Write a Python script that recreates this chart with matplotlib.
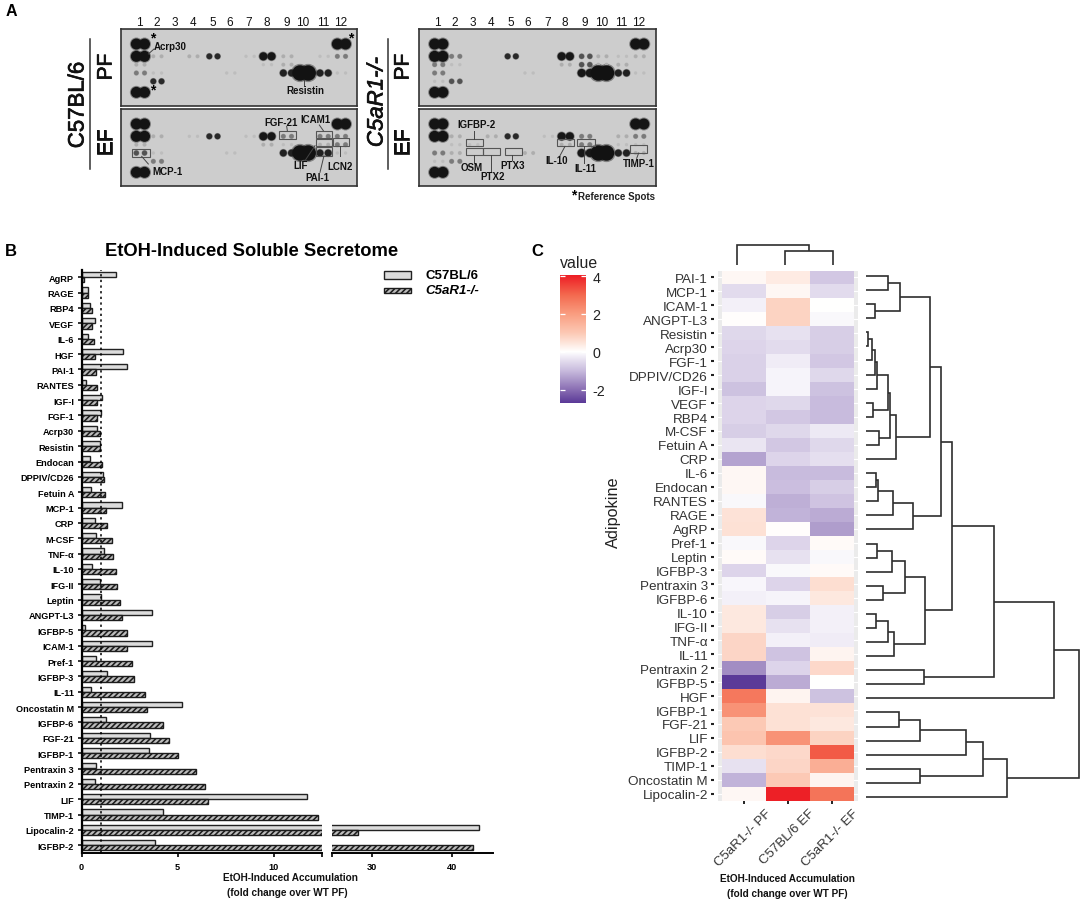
import matplotlib
matplotlib.use("Agg")
import numpy as np
import matplotlib.pyplot as plt
import matplotlib.patheffects as pe
from matplotlib.colors import LinearSegmentedColormap, Normalize
from matplotlib.patches import Rectangle
from matplotlib.transforms import ScaledTranslation

plt.rcParams['font.family'] = ['Liberation Sans', 'DejaVu Sans']
plt.rcParams['hatch.linewidth'] = 1.15

W, H = 1084, 904

# ---------- panel B data ----------
bar_labels = ["AgRP", "RAGE", "RBP4", "VEGF", "IL-6", "HGF", "PAI-1", "RANTES", "IGF-I", "FGF-1",
              "Acrp30", "Resistin", "Endocan", "DPPIV/CD26", "Fetuin A", "MCP-1", "CRP", "M-CSF",
              "TNF-α", "IL-10", "IFG-II", "Leptin", "ANGPT-L3", "IGFBP-5", "ICAM-1", "Pref-1",
              "IGFBP-3", "IL-11", "Oncostatin M", "IGFBP-6", "FGF-21", "IGFBP-1", "Pentraxin 3",
              "Pentraxin 2", "LIF", "TIMP-1", "Lipocalin-2", "IGFBP-2"]
c57_vals = [1.78, 0.35, 0.45, 0.71, 0.35, 2.17, 2.34, 0.22, 1.09, 0.99, 0.83, 0.94, 0.43, 1.11, 0.50,
            2.08, 0.69, 0.75, 1.16, 0.57, 0.94, 1.00, 3.64, 0.19, 3.67, 0.76, 1.32, 0.50, 5.20, 1.25,
            3.55, 3.50, 0.76, 0.71, 11.7, 4.21, 43.5, 3.81]
c5a_vals = [0.15, 0.33, 0.55, 0.57, 0.66, 0.69, 0.73, 0.78, 0.78, 0.78, 0.94, 0.97, 1.07, 1.18, 1.21,
            1.28, 1.30, 1.58, 1.66, 1.77, 1.87, 2.01, 2.08, 2.34, 2.36, 2.60, 2.74, 3.31, 3.43, 4.21,
            4.56, 4.99, 5.93, 6.40, 6.57, 12.3, 28.2, 42.7]

# ---------- panel C data ----------
heat_rows = ["PAI-1", "MCP-1", "ICAM-1", "ANGPT-L3", "Resistin", "Acrp30", "FGF-1", "DPPIV/CD26", "IGF-I",
             "VEGF", "RBP4", "M-CSF", "Fetuin A", "CRP", "IL-6", "Endocan", "RANTES", "RAGE", "AgRP",
             "Pref-1", "Leptin", "IGFBP-3", "Pentraxin 3", "IGFBP-6", "IL-10", "IFG-II", "TNF-α", "IL-11",
             "Pentraxin 2", "IGFBP-5", "HGF", "IGFBP-1", "FGF-21", "LIF", "IGFBP-2", "TIMP-1",
             "Oncostatin M", "Lipocalin-2"]
heat_cols = ["C5aR1-/- PF", "C57BL/6 EF", "C5aR1-/- EF"]
heat_pf = [0.15, -0.5, -0.2, 0.05, -0.55, -0.6, -0.65, -0.65, -0.9, -0.6, -0.6, -0.7, -0.35, -1.3, 0.15, 0.15,
           -0.1, 0.5, 0.55, -0.1, 0.08, -0.6, -0.12, -0.2, 0.4, 0.4, 0.75, 0.75, -1.6, -2.7, 2.7, 2.2, 1.0, 1.1,
           0.6, -0.4, -1.1, 0.15]
heat_c57ef = [0.35, 0.15, 0.8, 0.8, -0.4, -0.5, -0.25, -0.15, -0.15, -0.55, -0.8, -0.55, -0.8, -0.6, -1.0, -0.95,
              -1.15, -1.1, 0.05, -0.6, -0.4, -0.1, -0.6, -0.15, -0.7, -0.4, -0.2, -0.85, -0.6, -1.2, 0.2, 0.55,
              0.55, 2.2, 0.7, 0.75, 1.0, 4.0]
heat_c5ef = [-0.8, -0.5, 0.0, -0.1, -0.7, -0.7, -0.8, -0.55, -0.9, -1.0, -1.0, -0.3, -0.55, -0.45, -1.0, -0.7,
             -0.85, -1.2, -1.4, 0.1, -0.1, 0.1, 0.6, 0.4, -0.2, -0.2, -0.25, 0.2, 0.7, 0.0, -0.9, 0.5, 0.4, 0.8,
             3.2, 1.6, 0.2, 2.8]
cmap_values = [-2.7, -2, -1, -0.5, 0, 0.5, 1, 2, 3, 4.07]
cmap_colors = ["#5b3a98", "#8a6fb3", "#c8bbdd", "#e2dbed", "#ffffff", "#fde3d8", "#fcc8b4", "#f99d80", "#f36a4f", "#ed1c24"]

# dendrogram merges: (child, child, height); ids >= 38 are earlier merges
row_merges = [(0, 1, 115), (2, 3, 75), (38, 39, 150), (4, 5, 55), (41, 6, 65), (42, 7, 75), (43, 8, 80), (9, 10, 70),
              (44, 45, 115), (11, 12, 88), (46, 47, 120), (48, 13, 137), (40, 49, 240), (14, 15, 78), (51, 16, 85),
              (52, 17, 128), (53, 18, 190), (50, 54, 272), (19, 20, 82), (56, 21, 125), (22, 23, 98), (57, 58, 164),
              (24, 25, 78), (60, 26, 115), (61, 27, 133), (59, 62, 226), (55, 63, 305), (28, 29, 222), (64, 65, 433),
              (66, 30, 611), (31, 32, 148), (68, 33, 210), (69, 34, 348), (35, 36, 210), (70, 71, 400), (72, 37, 470),
              (67, 73, 687)]
col_merges = [(1, 2, 13.4), (0, 3, 19.4)]

# ---------- panel A data: (column, row, intensity level) ----------
blot_c57_pf = [(1,1,5),(1,2,5),(1,3,1),(1,4,2),(1,6,5),(2,2,1),(2,4,0),(2,5,3),(4,2,1),(5,2,3),(6,4,0),(7,2,0),(8,2,4),
               (8,3,0),(9,2,1),(9,3,1),(9,4,3.5),(10,4,6),(11,2,0),(11,4,3.5),(12,1,5),(12,2,2),(12,4,0)]
blot_c57_ef = [(1,1,5),(1,2,5),(1,3,1),(1,4,2.5),(1,6,5),(2,2,1),(2,4,0),(2,5,2),(4,2,0),(5,2,3),(6,4,0),(7,2,0),(8,2,4),
               (8,3,1),(9,2,2),(9,3,0),(9,4,3.5),(10,4,6),(11,2,2),(11,3,1),(11,4,3.5),(12,1,5),(12,2,2),(12,3,2),(12,4,0)]
blot_c5a_pf = [(1,1,5),(1,2,5),(1,3,2),(1,4,2),(1,5,0),(1,6,5),(2,2,2),(2,3,0),(2,5,2.5),(5,2,3),(6,4,0),(8,2,4),(8,3,1),
               (9,2,2.5),(9,3,2.5),(9,4,4),(10,2,1),(10,3,1),(10,4,6),(11,2,0),(11,3,1),(11,4,3.5),(12,1,5),(12,2,1),(12,4,0)]
blot_c5a_ef = [(1,1,5),(1,2,5),(1,4,2),(1,5,0),(1,6,5),(2,2,1),(2,3,0),(2,4,1),(2,5,2),(3,3,0),(4,2,1),(5,2,3),(6,4,1),
               (7,2,0),(8,2,4),(8,3,1),(9,2,2),(9,3,2),(9,4,4),(10,4,6),(11,2,1),(11,3,0),(11,4,3.5),(12,1,5),(12,2,2),
               (12,3,0),(12,4,1)]
col_numbers = list(range(1, 13))

# ---------- layout / style ----------
fig = plt.figure(figsize=(W/100, H/100), dpi=100, facecolor='white')

def axpx(l, t, r, b, **kw):
    return fig.add_axes([l/W, 1-b/H, (r-l)/W, (b-t)/H], **kw)

PX = 0.72  # points per pixel at dpi 100

# ---------- A: blots ----------
COL_OFF = np.array([409, 460, 514, 568, 628, 680, 738, 790, 850, 900, 960, 1012]) - 363.0
ROW_OFF = {1: 45, 2: 82, 3: 107, 4: 132, 5: 157, 6: 190}
LEVEL_DIAM = [3.0, 3.6, 4.6, 5.8, 8.2, 11.0, 15.5]
LEVEL_GRAY = [0.74, 0.68, 0.48, 0.16, 0.09, 0.08, 0.07]

def draw_blot(l, t, r, b, spots):
    ax = axpx(l, t, r, b)
    ax.set_xlim(0, (r-l)); ax.set_ylim((b-t), 0)
    ax.set_xticks([]); ax.set_yticks([])
    ax.set_facecolor('#cdcdcd')
    for s in ax.spines.values():
        s.set_linewidth(1.2); s.set_color('#333333')
    xs, ys, d, g = [], [], [], []
    for col, row, lev in spots:
        x0 = COL_OFF[int(col)-1]/3
        y0 = ROW_OFF[int(row)]/3
        for side in (0, 1):
            xs.append(x0 + side*8.2); ys.append(y0)
            d.append(float(np.interp(lev, range(7), LEVEL_DIAM)))
            g.append(float(np.interp(lev, range(7), LEVEL_GRAY)))
    xs, ys, d, g = map(np.array, (xs, ys, d, g))
    cols = np.stack([g, g, g], axis=1)
    ax.scatter(xs, ys, s=(d*1.18*PX)**2, c=cols, alpha=0.4, linewidths=0, zorder=2)
    ax.scatter(xs, ys, s=(d*PX)**2, c=cols, alpha=1.0, linewidths=0, zorder=3)

draw_blot(121, 30, 357.3, 106.7, blot_c57_pf)
draw_blot(121, 110, 357.3, 187.3, blot_c57_ef)
draw_blot(419.3, 30, 655.7, 106.7, blot_c5a_pf)
draw_blot(419.3, 110, 655.7, 187.3, blot_c5a_ef)

# ---------- B: broken bar chart ----------
row_pitch = 15.35
y0_px = 278.3
ytop = (271 - y0_px)/row_pitch
ybot = (854 - y0_px)/row_pitch
ypos = np.arange(len(bar_labels))
bh = 0.335

ax1 = axpx(81.5, 271, 322, 854)
ax2 = axpx(332.3, 271, 493, 854)
for ax in (ax1, ax2):
    ax.barh(ypos - 0.17, c57_vals, height=bh, facecolor='#dcdcdc', edgecolor='#222222', linewidth=1.0, zorder=2)
    ax.barh(ypos + 0.17, c5a_vals, height=bh, facecolor='#bdbdbd', edgecolor='#1c1c1c', linewidth=1.0, hatch='//////', zorder=2)
    ax.set_ylim(ybot, ytop)
    ax.spines['top'].set_visible(False); ax.spines['right'].set_visible(False)
    ax.spines['bottom'].set_linewidth(1.4)
    ax.tick_params(axis='x', length=3, width=1.2, pad=3.5)
ax1.set_xlim(0, 12.5)
ax2.set_xlim(25, 45.2)
ax1.axvline(1, color='black', lw=1.1, ls=(0, (1.5, 2.2)), zorder=4)
ax1.spines['left'].set_linewidth(1.6)
ax1.set_xticks([0, 5, 10, 12.5]); ax1.set_xticklabels(['0', '5', '10', ''], fontweight='bold', fontsize=6.6)
ax1.set_yticks(ypos); ax1.set_yticklabels(bar_labels, fontweight='bold', fontsize=6.6)
ax1.tick_params(axis='y', length=3, width=1.1, pad=2.4)
ax2.set_xticks([25, 30, 40]); ax2.set_xticklabels(['', '30', '40'], fontweight='bold', fontsize=6.6)
ax2.spines['left'].set_visible(False)
ax2.set_yticks([])

# ---------- C: heatmap ----------
cmap_pos = [(v - cmap_values[0])/(cmap_values[-1]-cmap_values[0]) for v in cmap_values]
cmap = LinearSegmentedColormap.from_list('rwp', list(zip(cmap_pos, cmap_colors)), N=256)
norm = Normalize(cmap_values[0], cmap_values[-1])
Z = np.array([heat_pf, heat_c57ef, heat_c5ef]).T

hx = axpx(718, 271.5, 858, 801.7)
hx.set_facecolor('#ebebeb')
mesh = hx.pcolormesh(np.arange(0.5, 4.0), np.arange(0.5, len(heat_rows)+1), Z, cmap=cmap, norm=norm, zorder=3,
                     edgecolors='none')
hx.set_xlim(0.4, 3.6)
hx.set_ylim(len(heat_rows)+0.5, 0.5)
for i in range(1, len(heat_rows)+1):
    hx.axhline(i, color='white', lw=0.8, zorder=1)
for s in hx.spines.values():
    s.set_visible(False)
hx.spines['left'].set_position(('outward', 2.6))
hx.set_yticks(np.arange(1, len(heat_rows)+1)); hx.set_yticklabels(heat_rows, fontsize=9.7, color='#333333')
hx.set_xticks([1, 2, 3])
hx.set_xticklabels(heat_cols, fontsize=9.5, color='#333333', rotation=45, ha='right', va='top', rotation_mode='anchor')
hx.tick_params(axis='y', length=2.2, width=1.5, pad=2.4, color='#222222')
hx.tick_params(axis='x', length=2.4, width=1.4, pad=2, color='#222222')
shift = ScaledTranslation(21/100, 0, fig.dpi_scale_trans)
for t in hx.get_xticklabels():
    t.set_transform(t.get_transform() + shift)

cax = axpx(560, 275.7, 585.7, 404)
cb = fig.colorbar(mesh, cax=cax, ticks=[4, 2, 0, -2])
cb.set_ticklabels(['4', '2', '0', '-2'])
cb.outline.set_visible(False)
cax.tick_params(axis='y', left=True, right=True, direction='in', color='white', length=3.6, width=0.9,
                labelsize=10.3, labelcolor='#222222', pad=4.8)

# ---------- dendrograms ----------
def dendro_segments(merges, n):
    pos = {i: float(i) for i in range(n)}
    hgt = {i: 0.0 for i in range(n)}
    segs = []
    for k, (a, b, h) in enumerate(merges):
        segs.append(([hgt[a], h, h, hgt[b]], [pos[a], pos[a], pos[b], pos[b]]))
        pos[n+k] = (pos[a] + pos[b])/2
        hgt[n+k] = h
    return segs

dr = axpx(866, 260, 1084, 810)
dr.axis('off')
dr.set_xlim(48, 48 + (1084-866)*3)
dr.set_ylim((810-277)/14.08, (260-277)/14.08)
for hs, ps in dendro_segments(row_merges, len(heat_rows)):
    dr.plot([(v + 48) if v == 0 else v for v in hs], ps, color='#2e2e2e', lw=1.2, solid_joinstyle='miter', solid_capstyle='butt')

dt = axpx(725, 240, 845, 265.7)
dt.axis('off')
dt.set_xlim(-12/48, 2 + 12/48)
dt.set_ylim(0, 25.7)
for hs, ps in dendro_segments(col_merges, 3):
    dt.plot(ps, hs, color='#2e2e2e', lw=1.2, solid_joinstyle='miter', solid_capstyle='butt')

# ---------- overlay for annotation ----------
ov = axpx(0, 0, W, H, zorder=20)
ov.set_xlim(0, W); ov.set_ylim(H, 0); ov.axis('off'); ov.patch.set_alpha(0)

def T(x, y, s, **kw):
    kw.setdefault('ha', 'center'); kw.setdefault('va', 'center')
    return ov.text(x, y, s, **kw)

for n, xc in zip(col_numbers, (COL_OFF + 363 + 12.5)/3):
    T(xc - 1, 23, str(n), fontsize=8.5, color='#111111')
    T(xc - 1 + 298.3, 23, str(n), fontsize=8.5, color='#111111')

T(11, 12, 'A', fontsize=11.5, fontweight='bold')
T(11, 251, 'B', fontsize=12, fontweight='bold')
T(537, 251, 'C', fontsize=12, fontweight='bold')
T(252, 251, 'EtOH-Induced Soluble Secretome', fontsize=13.2, fontweight='bold')

heavy = [pe.withStroke(linewidth=0.5, foreground='#111111')]
big = dict(rotation=90, color='#111111', path_effects=heavy)
T(78, 106, 'C57BL/6', fontsize=16, **big)
T(106, 68, 'PF', fontsize=15, **big)
T(106, 143, 'EF', fontsize=15, **big)
ov.plot([90, 90], [40, 170], color='#333333', lw=1.1)
T(377, 103, 'C5aR1-/-', fontsize=16, style='italic', **big)
T(403, 68, 'PF', fontsize=15, **big)
T(403, 143, 'EF', fontsize=15, **big)
ov.plot([387.7, 387.7], [40, 170], color='#333333', lw=1.1)

lab = dict(fontsize=7, fontweight='bold', color='#111111')
box = dict(fill=False, edgecolor='#555555', lw=0.8)
def Z3(xo, items):
    for s, cx, cy, lx0, ly0, lx1, ly1 in items:
        T(xo + cx/3, cy/3, s, **lab)
        ov.plot([xo + lx0/3, xo + lx1/3], [ly0/3, ly1/3], color='#444444', lw=0.7)
def B3(xo, rects):
    for x0, y0, x1, y1 in rects:
        ov.add_patch(Rectangle((xo + x0/3, y0/3), (x1-x0)/3, (y1-y0)/3, **box))

Z3(0, [("Acrp30", 512, 141, 462, 150, 445, 165), ("Resistin", 917, 272, 912, 243, 912, 260),
       ("FGF-21", 842, 369, 860, 382, 862, 395), ("ICAM1", 945, 360, 958, 378, 970, 395),
       ("LIF", 902, 497, 915, 485, 945, 440), ("PAI-1", 953, 533, 960, 520, 972, 470),
       ("LCN2", 1021, 502, 1021, 440, 1021, 470), ("MCP-1", 502, 517, 425, 472, 445, 495)])
B3(0, [(838, 395, 888, 420), (947, 395, 997, 418), (947, 420, 997, 442), (947, 445, 997, 470), (998, 418, 1048, 442), (397, 450, 450, 473)])
Z3(360, [("IGFBP-2", 349, 375, 343, 395, 343, 420), ("OSM", 336, 505, 343, 468, 343, 492),
         ("PTX2", 399, 530, 392, 468, 392, 518), ("PTX3", 457, 497, 457, 468, 457, 483),
         ("IL-10", 591, 483, 615, 442, 600, 470), ("IL-11", 675, 508, 672, 442, 672, 492),
         ("TIMP-1", 835, 492, 836, 462, 830, 478)])
B3(360, [(318, 420, 368, 442), (318, 446, 368, 468), (368, 446, 420, 468), (434, 446, 485, 468), (592, 420, 643, 442), (652, 420, 705, 442), (810, 438, 862, 462)])
for x, y in [(152.7, 38), (350.7, 38), (153, 90)]:
    T(x, y, '*', fontsize=10, fontweight='bold')
T(573.5, 195, '*', fontsize=10, fontweight='bold')
T(577.5, 197, 'Reference Spots', fontsize=7, fontweight='bold', ha='left', color='#222222')

# legend
ov.add_patch(Rectangle((383.5, 272), 27.5, 8, facecolor='#dcdcdc', edgecolor='#222222', lw=1))
ov.add_patch(Rectangle((383.5, 288.5), 27.5, 5.8, facecolor='#bdbdbd', edgecolor='#1c1c1c', lw=1, hatch='//////'))
T(425.5, 276.5, 'C57BL/6', ha='left', fontsize=9.5, fontweight='bold')
T(425.5, 291.5, 'C5aR1-/-', ha='left', fontsize=9.5, fontweight='bold', style='italic')

xl = dict(fontsize=7.2, fontweight='bold', color='#111111')
T(290, 878, 'EtOH-Induced Accumulation', **xl)
T(287, 893, '(fold change over WT PF)', **xl)
T(787, 879, 'EtOH-Induced Accumulation', **xl)
T(787, 894, '(fold change over WT PF)', **xl)

T(613, 512.5, 'Adipokine', fontsize=11.7, rotation=90, color='#222222')
T(579.5, 264, 'value', fontsize=11.4, color='#222222')

fig.savefig('out.png', dpi=100)
